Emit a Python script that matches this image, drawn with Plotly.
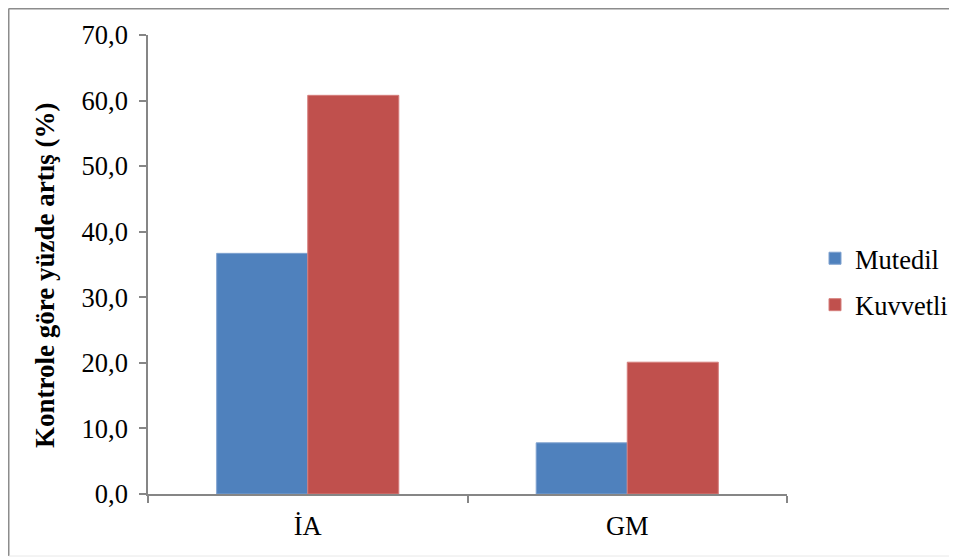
import plotly.graph_objects as go

categories = ["İA", "GM"]
mutedil = [36.7, 7.8]
kuvvetli = [60.8, 20.1]
series_names = ["Mutedil", "Kuvvetli"]
y_ticks = [0, 10, 20, 30, 40, 50, 60, 70]
y_tick_labels = ["0,0", "10,0", "20,0", "30,0", "40,0", "50,0", "60,0", "70,0"]
y_title = "Kontrole göre yüzde artış (%)"

FONT = "Liberation Serif"
AXIS_COLOR = "#868686"

# page has an 8px body margin; figure is sized/placed to compensate
W, H = 949, 549
L, R, T, B = 140, 170, 27, 63
PW, PH = W - L - R, H - T - B


def px(xf):
    return (xf - L) / PW


def py(yf):
    return (H - B - yf) / PH


fig = go.Figure()
fig.add_trace(go.Bar(x=categories, y=mutedil, name=series_names[0],
                     marker=dict(color="#4F81BD", line=dict(color="#7EA1CF", width=1)),
                     legendgroup="a"))
fig.add_trace(go.Bar(x=categories, y=kuvvetli, name=series_names[1],
                     marker=dict(color="#C0504D", line=dict(color="#D57E7C", width=1)),
                     legendgroup="b"))

fig.update_layout(
    width=W, height=H,
    margin=dict(l=L, r=R, t=T, b=B, autoexpand=False),
    paper_bgcolor="white", plot_bgcolor="white",
    barmode="group", bargap=0.43, bargroupgap=0,
    font=dict(family=FONT, size=26.5, color="black"),
    showlegend=True,
    legend=dict(x=px(807), y=py(273.5), xanchor="left", yanchor="middle",
                font=dict(family=FONT, size=26.5), tracegroupgap=9,
                traceorder="grouped", itemwidth=30, bgcolor="rgba(0,0,0,0)"),
    xaxis=dict(type="category", showline=True, linecolor=AXIS_COLOR, linewidth=1.5,
               ticks="outside", tickson="boundaries", ticklen=7, tickcolor=AXIS_COLOR,
               tickwidth=1.5, showgrid=False, tickfont=dict(family=FONT, size=26.5),
               ticklabelstandoff=7, automargin=False),
    yaxis=dict(range=[0, 70], tickvals=y_ticks, ticktext=y_tick_labels,
               showline=True, linecolor=AXIS_COLOR, linewidth=1.5,
               ticks="outside", ticklen=7, tickcolor=AXIS_COLOR, tickwidth=1.5,
               showgrid=False, zeroline=False, tickfont=dict(family=FONT, size=26.5),
               ticklabelstandoff=6, automargin=False),
    annotations=[dict(text="<b>" + y_title + "</b>", textangle=-90,
                      xref="paper", yref="paper", x=px(37), y=py(268),
                      xanchor="center", yanchor="middle", showarrow=False,
                      font=dict(family=FONT, size=27, color="black"))],
    shapes=[
        dict(type="line", xref="paper", yref="paper",
             x0=px(0.75), x1=px(0.75), y0=py(0.5), y1=py(548),
             line=dict(color="#8C8C8C", width=1.5)),
        dict(type="line", xref="paper", yref="paper",
             x0=px(0.75), x1=px(960), y0=py(0.75), y1=py(0.75),
             line=dict(color="#8C8C8C", width=1.5)),
        dict(type="line", xref="paper", yref="paper",
             x0=px(0.75), x1=px(960), y0=py(548), y1=py(548),
             line=dict(color="#E8E8E8", width=1)),
    ],
)

fig.write_html("out.html")
